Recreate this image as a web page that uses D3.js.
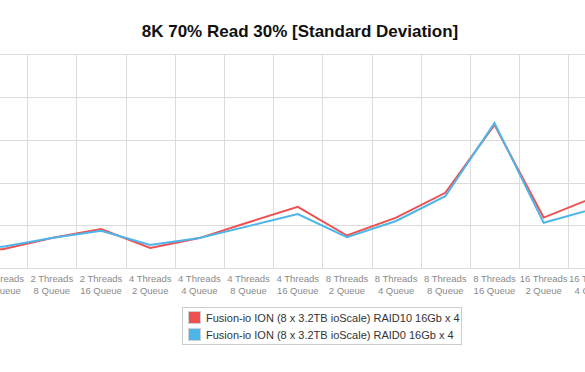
<!DOCTYPE html>
<html><head><meta charset="utf-8">
<script src="https://cdn.jsdelivr.net/npm/d3@7"></script>
<style>body{margin:0;background:#fff}svg{display:block;overflow:hidden}</style>
</head><body>
<svg id="c" width="585" height="372"></svg>
<script>
const categories = [
 ["2 Threads","2 Queue"],["2 Threads","4 Queue"],["2 Threads","8 Queue"],["2 Threads","16 Queue"],
 ["4 Threads","2 Queue"],["4 Threads","4 Queue"],["4 Threads","8 Queue"],["4 Threads","16 Queue"],
 ["8 Threads","2 Queue"],["8 Threads","4 Queue"],["8 Threads","8 Queue"],["8 Threads","16 Queue"],
 ["16 Threads","2 Queue"],["16 Threads","4 Queue"]
];
const raid10 = [0.40,0.44,0.70,0.91,0.47,0.70,1.07,1.43,0.76,1.18,1.76,3.35,1.18,1.64];
const raid0  = [0.45,0.50,0.70,0.87,0.54,0.70,0.98,1.26,0.72,1.10,1.68,3.39,1.06,1.38];
const yTicks = [0,1,2,3,4,5];
const seriesNames = ["Fusion-io ION (8 x 3.2TB ioScale) RAID10 16Gb x 4","Fusion-io ION (8 x 3.2TB ioScale) RAID0 16Gb x 4"];
const colors = ["#f0504f","#4cb6ea"];

const svg = d3.select("#c");
const font = "'Liberation Sans', Arial, Helvetica, sans-serif";
const keys = categories.map(c => c.join(" "));
const bw = 49.18;
const x0 = -71.1;
const x = d3.scaleBand().domain(keys).range([x0, x0 + bw*keys.length]).padding(0);
const y = d3.scaleLinear().domain([0,5]).range([268,54.3]);

// horizontal grid
svg.append("g").selectAll("line").data(yTicks).join("line")
  .attr("x1",-80).attr("x2",720).attr("y1",d=>Math.round(y(d))+0.5).attr("y2",d=>Math.round(y(d))+0.5)
  .attr("stroke","#dcdcdc").attr("stroke-width",1);
// vertical grid at band boundaries
const bounds = keys.map(k=>x(k)).concat([x0 + bw*keys.length]);
svg.append("g").selectAll("line").data(bounds).join("line")
  .attr("x1",d=>Math.round(d)+0.5).attr("x2",d=>Math.round(d)+0.5)
  .attr("y1",y(5)).attr("y2",y(0))
  .attr("stroke","#dcdcdc").attr("stroke-width",1);

// x labels
const lab = svg.append("g").selectAll("text").data(categories).join("text")
  .attr("x",(d,i)=>x(keys[i])+bw/2).attr("y",282)
  .attr("text-anchor","middle").attr("font-family",font).attr("font-size","9.5px").attr("fill","#8a8a8a");
lab.append("tspan").attr("x",(d,i)=>x(keys[i])+bw/2).attr("dy",0).text(d=>d[0]);
lab.append("tspan").attr("x",(d,i)=>x(keys[i])+bw/2).attr("dy",11.5).text(d=>d[1]);

// lines
const line = d3.line().x((d,i)=>x(keys[i])+bw/2).y(d=>y(d));
[raid10, raid0].forEach((s,j)=>{
  svg.append("path").datum(s).attr("d",line).attr("fill","none")
    .attr("stroke",colors[j]).attr("stroke-width",2).attr("stroke-linejoin","miter");
});

// title
svg.append("text").attr("x",300).attr("y",36.5).attr("text-anchor","middle")
  .attr("font-family",font).attr("font-weight","bold").attr("font-size","17px").attr("fill","#111")
  .text("8K 70% Read 30% [Standard Deviation]");

// legend
const lg = svg.append("g");
lg.append("rect").attr("x",182.5).attr("y",307.5).attr("width",279).attr("height",37)
  .attr("fill","#fff").attr("stroke","#cccccc");
seriesNames.forEach((n,j)=>{
  const yy = 311.5 + j*17;
  lg.append("rect").attr("x",188.5).attr("y",yy).attr("width",12).attr("height",12)
    .attr("fill",colors[j]).attr("stroke","#d0d0d0");
  lg.append("text").attr("x",206).attr("y",yy+10).attr("font-family",font).attr("font-size","11px")
    .attr("fill","#333").text(n);
});
</script>
</body></html>
